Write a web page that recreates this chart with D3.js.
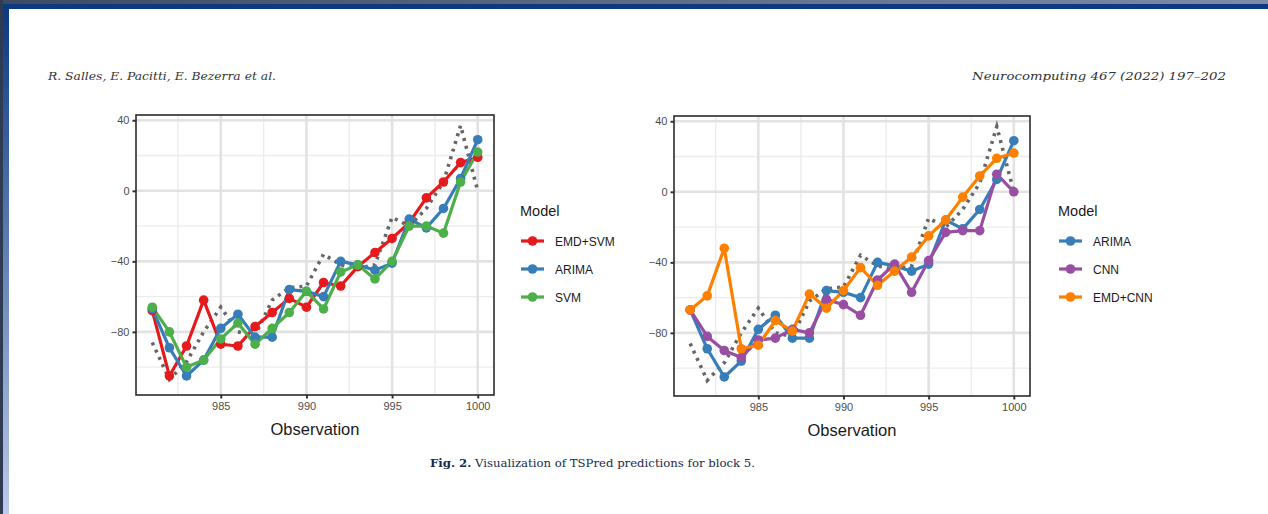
<!DOCTYPE html>
<html>
<head>
<meta charset="utf-8">
<script src="https://cdn.jsdelivr.net/npm/d3@7"></script>
<style>
  body { margin: 0; background: #ffffff; }
  svg { display: block; font-family: "Liberation Sans", Arial, sans-serif; }
</style>
</head>
<body>
<script>
var observations = [981,982,983,984,985,986,987,988,989,990,991,992,993,994,995,996,997,998,999,1000];
var actualValues = [-86,-107,-97,-80,-66,-80,-82,-62,-55,-54,-36,-42,-44,-42,-15,-20,-10,5,37,0];
var emdSvmValues = [-68,-105,-88,-62,-87,-88,-77,-69,-61,-66,-52,-54,-43,-35,-27,-18,-4,5,16,19];
var arimaValues = [-67,-89,-105,-96,-78,-70,-83,-83,-56,-57,-60,-40,-42,-45,-41,-16,-21,-10,7,29];
var svmValues = [-66,-80,-100,-96,-84,-75,-87,-78,-69,-57,-67,-46,-42,-50,-40,-20,-20,-24,5,22];
var cnnValues = [-67,-82,-90,-94,-84,-83,-78,-80,-61,-64,-70,-50,-41,-57,-39,-23,-22,-22,10,0];
var emdCnnValues = [-67,-59,-32,-89,-87,-73,-79,-58,-66,-56,-43,-53,-45,-37,-25,-16,-3,9,19,22];

var xTicks = [985,990,995,1000];
var yTicks = [-80,-40,0,40];
var xMinor = [982.5,987.5,992.5,997.5];
var yMinor = [-100,-60,-20,20];

var leftModels = ["EMD+SVM","ARIMA","SVM"];
var leftSeries = [emdSvmValues, arimaValues, svmValues];
var leftColors = ["#E41A1C","#377EB8","#4DAF4A"];
var rightModels = ["ARIMA","CNN","EMD+CNN"];
var rightSeries = [arimaValues, cnnValues, emdCnnValues];
var rightColors = ["#377EB8","#984EA3","#FF7F00"];

var W = 1268, H = 514;
var svg = d3.select("body").append("svg").attr("width", W).attr("height", H);

// page frame
var defs = svg.append("defs");
var gTop = defs.append("linearGradient").attr("id","topband");
gTop.append("stop").attr("offset","0%").attr("stop-color","#3d4a62");
gTop.append("stop").attr("offset","100%").attr("stop-color","#7d8cab");
var gSide = defs.append("linearGradient").attr("id","sideband")
  .attr("x1",0).attr("y1",0).attr("x2",0).attr("y2",1);
gSide.append("stop").attr("offset","0%").attr("stop-color","#0b3a80");
gSide.append("stop").attr("offset","100%").attr("stop-color","#bccbea");

svg.append("rect").attr("x",0).attr("y",0).attr("width",W).attr("height",H).attr("fill","#ffffff");
svg.append("rect").attr("x",0).attr("y",0).attr("width",W).attr("height",4).attr("fill","url(#topband)");
svg.append("rect").attr("x",0).attr("y",4).attr("width",W).attr("height",5).attr("fill","#0b3a80");
svg.append("rect").attr("x",0).attr("y",0).attr("width",3).attr("height",H).attr("fill","#2e3b52");
svg.append("rect").attr("x",3).attr("y",9).attr("width",6).attr("height",H-9).attr("fill","url(#sideband)");

// header
svg.append("text").attr("x",48).attr("y",80)
  .attr("font-family","'DejaVu Serif', serif").attr("font-style","italic")
  .attr("font-size",11).attr("fill","#333")
  .attr("textLength",228).attr("lengthAdjust","spacingAndGlyphs")
  .text("R. Salles, E. Pacitti, E. Bezerra et al.");
svg.append("text").attr("x",972).attr("y",80)
  .attr("font-family","'DejaVu Serif', serif").attr("font-style","italic")
  .attr("font-size",11).attr("fill","#333")
  .attr("textLength",254).attr("lengthAdjust","spacingAndGlyphs")
  .text("Neurocomputing 467 (2022) 197\u2013202");

// caption
var cap = svg.append("text").attr("x",430).attr("y",467)
  .attr("font-family","'DejaVu Serif', serif").attr("font-size",11).attr("fill","#1a2a4a")
  .attr("textLength",325).attr("lengthAdjust","spacingAndGlyphs");
cap.append("tspan").attr("font-weight","bold").text("Fig. 2.");
cap.append("tspan").text(" Visualization of TSPred predictions for block 5.");

function drawPanel(p) {
  var x = d3.scaleLinear().domain([980.05, 1000.95]).range([p.left, p.right]);
  var y = d3.scaleLinear().domain([-115.8, 43]).range([p.bottom, p.top]);
  var g = svg.append("g");

  g.append("rect").attr("x",p.left).attr("y",p.top)
    .attr("width",p.right-p.left).attr("height",p.bottom-p.top).attr("fill","#ffffff");

  g.selectAll(".ym").data(yMinor).enter().append("line")
    .attr("x1",p.left).attr("x2",p.right).attr("y1",d=>y(d)).attr("y2",d=>y(d))
    .attr("stroke","#ececec").attr("stroke-width",1.4);
  g.selectAll(".xm").data(xMinor).enter().append("line")
    .attr("y1",p.top).attr("y2",p.bottom).attr("x1",d=>x(d)).attr("x2",d=>x(d))
    .attr("stroke","#ececec").attr("stroke-width",1.4);
  g.selectAll(".yM").data(yTicks).enter().append("line")
    .attr("x1",p.left).attr("x2",p.right).attr("y1",d=>y(d)).attr("y2",d=>y(d))
    .attr("stroke","#e2e2e2").attr("stroke-width",2.6);
  g.selectAll(".xM").data(xTicks).enter().append("line")
    .attr("y1",p.top).attr("y2",p.bottom).attr("x1",d=>x(d)).attr("x2",d=>x(d))
    .attr("stroke","#e2e2e2").attr("stroke-width",2.6);

  var line = d3.line().x((d,i)=>x(observations[i])).y(d=>y(d));

  g.append("path").datum(actualValues).attr("d",line).attr("fill","none")
    .attr("stroke","#666666").attr("stroke-width",3.6).attr("stroke-dasharray","3,5");

  p.series.forEach(function(vals, k) {
    g.append("path").datum(vals).attr("d",line).attr("fill","none")
      .attr("stroke",p.colors[k]).attr("stroke-width",3.2).attr("stroke-linejoin","round");
  });
  p.series.forEach(function(vals, k) {
    g.selectAll(null).data(vals).enter().append("circle")
      .attr("cx",(d,i)=>x(observations[i])).attr("cy",d=>y(d)).attr("r",4.8)
      .attr("fill",p.colors[k]);
  });

  g.append("rect").attr("x",p.left).attr("y",p.top)
    .attr("width",p.right-p.left).attr("height",p.bottom-p.top)
    .attr("fill","none").attr("stroke","#2b2b2b").attr("stroke-width",1.6);

  // axes
  var ax = g.append("g").attr("transform","translate(0,"+p.bottom+")")
    .call(d3.axisBottom(x).tickValues(xTicks).tickFormat(d3.format("d")).tickSize(3.5).tickPadding(4));
  var ay = g.append("g").attr("transform","translate("+p.left+",0)")
    .call(d3.axisLeft(y).tickValues(yTicks).tickFormat(d3.format("d")).tickSize(3.5).tickPadding(3));
  [ax, ay].forEach(function(a) {
    a.select(".domain").remove();
    a.selectAll(".tick line").attr("stroke","#333").attr("stroke-width",2);
    a.selectAll(".tick text").attr("fill","#4d4d4d").attr("font-size",11)
      .attr("font-family","'Liberation Sans', Arial, sans-serif");
  });

  g.append("text").attr("x",(p.left+p.right)/2).attr("y",p.bottom+40)
    .attr("text-anchor","middle").attr("font-size",16.5).attr("fill","#1a1a1a")
    .text("Observation");

  // legend
  var lg = g.append("g").attr("transform","translate("+p.legendX+",0)");
  lg.append("text").attr("x",0).attr("y",216).attr("font-size",14.5).attr("fill","#1a1a1a").text("Model");
  p.models.forEach(function(m, k) {
    var ly = 241 + k*28;
    lg.append("line").attr("x1",1).attr("x2",24).attr("y1",ly).attr("y2",ly)
      .attr("stroke",p.colors[k]).attr("stroke-width",3.2);
    lg.append("circle").attr("cx",12.5).attr("cy",ly).attr("r",4.8).attr("fill",p.colors[k]);
    lg.append("text").attr("x",35).attr("y",ly+4.5).attr("font-size",12).attr("fill","#1a1a1a").text(m);
  });
}

drawPanel({left:136, right:494, top:115, bottom:395, series:leftSeries, colors:leftColors, models:leftModels, legendX:520});
drawPanel({left:674, right:1030, top:116, bottom:396, series:rightSeries, colors:rightColors, models:rightModels, legendX:1058});
</script>
</body>
</html>
